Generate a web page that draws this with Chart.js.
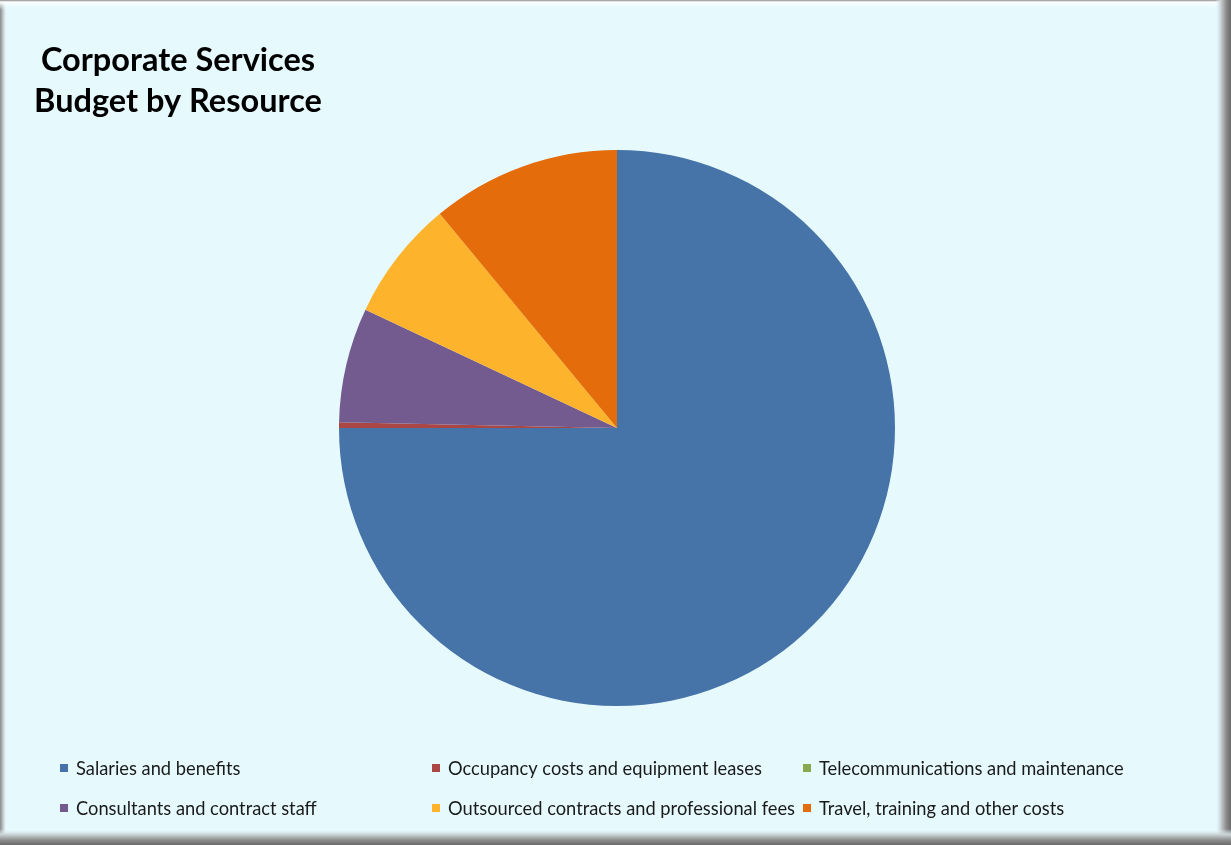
<!DOCTYPE html>
<html>
<head>
<meta charset="utf-8">
<script src="https://cdn.jsdelivr.net/npm/chart.js@4/dist/chart.umd.min.js"></script>
<style>
  html, body { margin: 0; padding: 0; background: #E6FAFE; }
  #wrap { width: 1231px; height: 845px; position: relative; }
</style>
</head>
<body>
<div id="wrap"><canvas id="c" width="1231" height="845"></canvas></div>
<script>
const titleLines = ['Corporate Services', 'Budget by Resource'];
const categories = [
  'Salaries and benefits',
  'Occupancy costs and equipment leases',
  'Telecommunications and maintenance',
  'Consultants and contract staff',
  'Outsourced contracts and professional fees',
  'Travel, training and other costs'
];
const shares = [75.0, 0.33, 0.0, 6.67, 7.0, 11.0];
const colors = ['#4673A8', '#AA4643', '#8AA84F', '#735A8F', '#FDB32B', '#E46C0A'];

const FONT = 'Lato, "Open Sans", sans-serif';

const framePlugin = {
  id: 'frame',
  beforeDraw(chart) {
    const ctx = chart.ctx, W = chart.width, H = chart.height;
    ctx.save();
    ctx.fillStyle = '#E6FAFE';
    ctx.fillRect(0, 0, W, H);
    // left edge
    let g = ctx.createLinearGradient(0, 0, 7, 0);
    g.addColorStop(0, '#8a8a8a'); g.addColorStop(0.5, '#c8d0d2'); g.addColorStop(1, 'rgba(230,250,254,0)');
    ctx.fillStyle = g; ctx.fillRect(0, 0, 7, H);
    // top edge
    g = ctx.createLinearGradient(0, 0, 0, 10);
    g.addColorStop(0, '#8a8a8a'); g.addColorStop(0.2, '#ffffff'); g.addColorStop(1, 'rgba(230,250,254,0)');
    ctx.fillStyle = g; ctx.fillRect(0, 0, W, 10);
    // right edge
    g = ctx.createLinearGradient(W - 16, 0, W, 0);
    g.addColorStop(0, 'rgba(230,250,254,0)'); g.addColorStop(0.35, '#c9d2d4'); g.addColorStop(0.7, '#8c8c8c'); g.addColorStop(1, '#6a6a6a');
    ctx.fillStyle = g; ctx.fillRect(W - 16, 0, 16, H);
    // bottom edge
    g = ctx.createLinearGradient(0, H - 16, 0, H);
    g.addColorStop(0, 'rgba(230,250,254,0)'); g.addColorStop(0.35, '#c9d2d4'); g.addColorStop(0.7, '#8c8c8c'); g.addColorStop(1, '#6a6a6a');
    ctx.fillStyle = g; ctx.fillRect(0, H - 16, W, 16);
    ctx.restore();
  },
  afterDraw(chart) {
    const ctx = chart.ctx;
    ctx.save();
    // title
    ctx.fillStyle = '#000';
    ctx.font = 'bold 32.5px ' + FONT;
    ctx.textAlign = 'center';
    ctx.textBaseline = 'alphabetic';
    ctx.fillText(titleLines[0], 178, 71);
    ctx.fillText(titleLines[1], 178, 112);
    // legend, 3 columns x 2 rows
    const labels = chart.data.labels;
    const bg = chart.data.datasets[0].backgroundColor;
    const colX = [60, 432, 803];
    const rowY = [768, 808];
    ctx.font = '18.3px ' + FONT;
    ctx.textAlign = 'left';
    ctx.textBaseline = 'middle';
    labels.forEach((lab, i) => {
      const x = colX[i % 3], y = rowY[Math.floor(i / 3)];
      ctx.fillStyle = bg[i];
      ctx.fillRect(x, y - 4, 8, 8);
      ctx.fillStyle = '#1a1a1a';
      ctx.fillText(lab, x + 16, y + 1);
    });
    ctx.restore();
  }
};

new Chart(document.getElementById('c'), {
  type: 'pie',
  data: {
    labels: categories,
    datasets: [{
      data: shares,
      backgroundColor: colors,
      borderWidth: 0
    }]
  },
  options: {
    responsive: false,
    animation: false,
    events: [],
    layout: { padding: { top: 150, bottom: 139, left: 3, right: 0 } },
    plugins: {
      legend: { display: false },
      tooltip: { enabled: false },
      title: { display: false }
    }
  },
  plugins: [framePlugin]
});
</script>
</body>
</html>
